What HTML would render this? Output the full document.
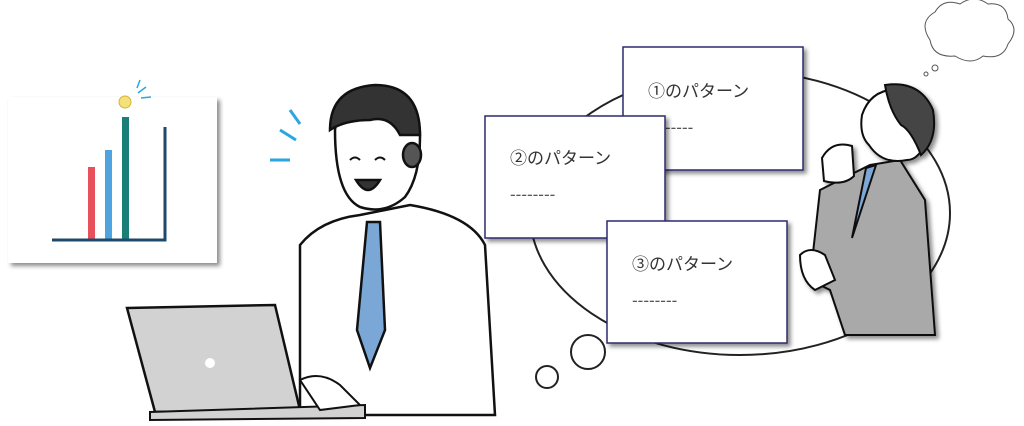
<!DOCTYPE html>
<html><head><meta charset="utf-8"><style>
html,body{margin:0;padding:0;background:#fff;}
svg{display:block}
text{font-family:"Liberation Sans","Noto Sans CJK JP",sans-serif;}
</style></head><body>
<svg width="1024" height="426" viewBox="0 0 1024 426" xmlns="http://www.w3.org/2000/svg">
<defs>
<filter id="sh" x="-10%" y="-10%" width="130%" height="130%"><feDropShadow dx="3" dy="3" stdDeviation="2" flood-color="#000" flood-opacity="0.45"/></filter>
</defs>
<rect x="8" y="97" width="209" height="166" fill="#fff" filter="url(#sh)"/>
<rect x="88" y="167" width="7" height="73" fill="#e8505b"/>
<rect x="105" y="150" width="7" height="90" fill="#4fa3de"/>
<rect x="122" y="117" width="7" height="123" fill="#1b7f79"/>
<path d="M52 240 H165 V127" stroke="#1d4a6b" stroke-width="3" fill="none"/>
<circle cx="125" cy="102" r="6" fill="#f3e27a" stroke="#d6b43a"/>
<path d="M138 93 l8 -6 M141 98 l10 -1 M137 88 l3 -8" stroke="#2aa7e0" stroke-width="1.5"/>
<ellipse cx="740" cy="213" rx="210" ry="142" fill="none" stroke="#222" stroke-width="2"/>
<circle cx="547" cy="377" r="11" fill="none" stroke="#222" stroke-width="2"/>
<circle cx="588" cy="352" r="17" fill="none" stroke="#222" stroke-width="2"/>
<path d="M930 40 q-12 -18 5 -28 q8 -14 25 -8 q14 -10 28 0 q18 -2 20 15 q12 10 0 25 q-5 16 -25 12 q-12 10 -28 0 q-22 2 -25 -16z" fill="#fff" stroke="#555" stroke-width="1"/>
<circle cx="935" cy="68" r="3" fill="none" stroke="#555"/><circle cx="926" cy="74" r="2" fill="none" stroke="#555"/>
<rect x="623" y="47" width="180" height="123" fill="#fff" stroke="#2d2a6e" stroke-width="1.5" filter="url(#sh)"/>
<text x="648" y="97" font-size="17" fill="#333">①のパターン</text>
<text x="648" y="133" font-size="17" fill="#555">--------</text>
<rect x="485" y="116" width="180" height="122" fill="#fff" stroke="#2d2a6e" stroke-width="1.5" filter="url(#sh)"/>
<text x="510" y="164" font-size="17" fill="#333">②のパターン</text>
<text x="510" y="200" font-size="17" fill="#555">--------</text>
<rect x="607" y="221" width="180" height="122" fill="#fff" stroke="#2d2a6e" stroke-width="1.5" filter="url(#sh)"/>
<text x="632" y="270" font-size="17" fill="#333">③のパターン</text>
<text x="632" y="306" font-size="17" fill="#555">--------</text>
<g stroke="#111" stroke-width="2" filter="url(#sh)">
<path d="M820 190 L870 165 L900 160 L925 200 L935 335 L845 335 L830 290 L810 280 Z" fill="#a9a9a9"/>
<path d="M866 168 L876 165 L852 238 Z" fill="#7ba7d6"/>
<path d="M862 115 q10 -30 45 -25 q25 15 20 50 q-8 20 -20 20 q-25 5 -38 -15 q-10 -10 -7 -30z" fill="#fff"/>
<path d="M885 85 q35 -5 48 25 q5 30 -12 45 q-10 -25 -20 -30 q-12 -15 -16 -40z" fill="#444"/>
<path d="M822 158 q10 -18 30 -12 l2 30 q-10 10 -30 5 z" fill="#fff"/>
<path d="M800 255 q10 -10 25 0 l10 25 -20 10 q-15 -10 -15 -35z" fill="#fff"/>
</g>
<g stroke="#111" stroke-width="2.5">
<path d="M300 245 q20 -25 60 -30 l50 -10 q60 10 75 40 l10 170 L300 415 Z" fill="#fff"/>
<path d="M367 222 L380 222 L385 330 L370 368 L357 330 Z" fill="#7ba7d6"/>
<path d="M335 130 q5 -40 50 -38 q35 5 35 45 q0 40 -15 60 q-20 18 -45 10 q-25 -12 -25 -77z" fill="#fff"/>
<path d="M330 130 q0 -42 45 -45 q45 0 45 50 l-20 0 q-10 -20 -30 -15 q-25 0 -40 10z" fill="#333"/>
<ellipse cx="412" cy="155" rx="9" ry="12" fill="#555"/>
<path d="M350 160 q5 -5 10 0 M375 160 q5 -5 10 0" fill="none" stroke-width="2"/>
<path d="M356 180 q12 20 24 0 z" fill="#333"/>
</g>
<path d="M280 130 l16 10 M290 110 l10 14 M270 160 l20 0" stroke="#2aa7e0" stroke-width="3"/>
<path d="M127 308 L275 305 L300 410 L155 412 Z" fill="#d2d2d2" stroke="#111" stroke-width="2.5"/>
<path d="M150 412 L365 405 L365 418 L150 420 Z" fill="#d2d2d2" stroke="#111" stroke-width="2"/>
<circle cx="210" cy="363" r="5" fill="#fff"/>
<path d="M300 380 q20 -10 40 5 l20 20 -40 5 z" fill="#fff" stroke="#111" stroke-width="2"/>
</svg>
</body></html>
